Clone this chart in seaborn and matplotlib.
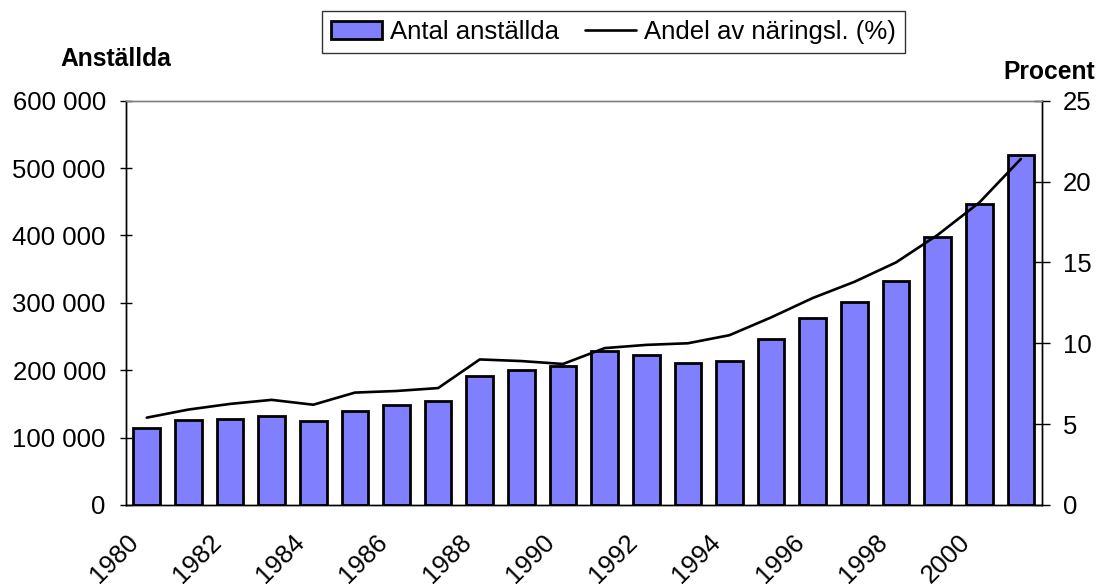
import numpy as np
import seaborn as sns
import matplotlib.pyplot as plt
from matplotlib.patches import Patch
from matplotlib.lines import Line2D
from matplotlib.ticker import FuncFormatter
import matplotlib.transforms as transforms

years = [1980, 1981, 1982, 1983, 1984, 1985, 1986, 1987, 1988, 1989, 1990,
         1991, 1992, 1993, 1994, 1995, 1996, 1997, 1998, 1999, 2000, 2001]
employees = [114000, 126000, 127000, 132000, 125000, 140000, 148000, 154000,
             192000, 201000, 207000, 228000, 222000, 210000, 213000, 246000,
             278000, 301000, 333000, 398000, 447000, 520000]
share = [5.4, 5.9, 6.25, 6.5, 6.2, 6.95, 7.05, 7.23, 9.0, 8.9, 8.72,
         9.7, 9.9, 10.0, 10.5, 11.6, 12.8, 13.8, 15.0, 16.7, 18.7, 21.4]
year_labels = ["1980", "1982", "1984", "1986", "1988", "1990",
               "1992", "1994", "1996", "1998", "2000"]
left_ticks = [0, 100000, 200000, 300000, 400000, 500000, 600000]
right_ticks = [0, 5, 10, 15, 20, 25]

sns.set_style("white")
plt.rcParams['font.family'] = ['Liberation Sans', 'DejaVu Sans']
plt.rcParams['text.color'] = 'black'
plt.rcParams['xtick.color'] = 'black'
plt.rcParams['ytick.color'] = 'black'
FS = 18.5

fig = plt.figure(figsize=(11, 5.88), dpi=100)
ax = fig.add_axes([0.1145, 0.1412, 0.947 - 0.1145, 0.8287 - 0.1412])

sns.barplot(x=years, y=employees, color='#8080FF', saturation=1, edgecolor='black',
            linewidth=2.0, width=0.64, ax=ax)

ax2 = ax.twinx()
sns.lineplot(x=np.arange(len(years)), y=share, color='black', linewidth=1.9, ax=ax2)

ax.set_xlim(-0.5, len(years) - 0.5)
ax.set_ylim(0, 600000)
ax2.set_ylim(0, 25)

ax.set_xticks(np.arange(0, len(years), 2))
ax.set_xticklabels(year_labels, rotation=45, ha='right', va='top', rotation_mode='anchor', fontsize=FS)
ax.set_xticks(np.arange(-0.5, len(years), 1), minor=True)
ax.tick_params(axis='x', which='major', length=0, pad=18)
ax.tick_params(axis='x', which='minor', direction='inout', length=11, width=1, color='black')
offset = transforms.ScaledTranslation(-21 / 100, 0, fig.dpi_scale_trans)
for lbl in ax.get_xticklabels():
    lbl.set_transform(lbl.get_transform() + offset)

ax.set_yticks(left_ticks)
ax.yaxis.set_major_formatter(FuncFormatter(lambda v, p: f"{int(v):,}".replace(",", " ")))
ax.tick_params(axis='y', direction='inout', length=9, width=1, labelsize=FS, pad=10, left=True)
ax2.set_yticks(right_ticks)
ax2.tick_params(axis='y', direction='inout', length=12, width=1, labelsize=FS, pad=9, right=True)

ax.set_xlabel('')
ax.set_ylabel('')
ax2.set_ylabel('')
for a in (ax, ax2):
    for s in a.spines.values():
        s.set_color('black')
        s.set_linewidth(1)
    a.spines['top'].set_color('#808080')

fig.text(116 / 1100, 1 - 59 / 588, 'Anställda', fontsize=17.7, fontweight='bold', ha='center', va='center')
fig.text(1095 / 1100, 1 - 72 / 588, 'Procent', fontsize=17.7, fontweight='bold', ha='right', va='center')

handles = [Patch(facecolor='#8080FF', edgecolor='black', linewidth=2.0),
           Line2D([0], [0], color='black', linewidth=1.9)]
leg = fig.legend(handles, ['Antal anställda', 'Andel av näringsl. (%)'], ncol=2,
                 loc='upper left', bbox_to_anchor=(322 / 1100, 1 - 11 / 588),
                 fontsize=FS, frameon=True, fancybox=False, edgecolor='black',
                 borderpad=0.35, handlelength=2.0, handletextpad=0.3, columnspacing=1.0,
                 borderaxespad=0)
leg.get_frame().set_linewidth(1)

plt.savefig("out.png", dpi=100)
